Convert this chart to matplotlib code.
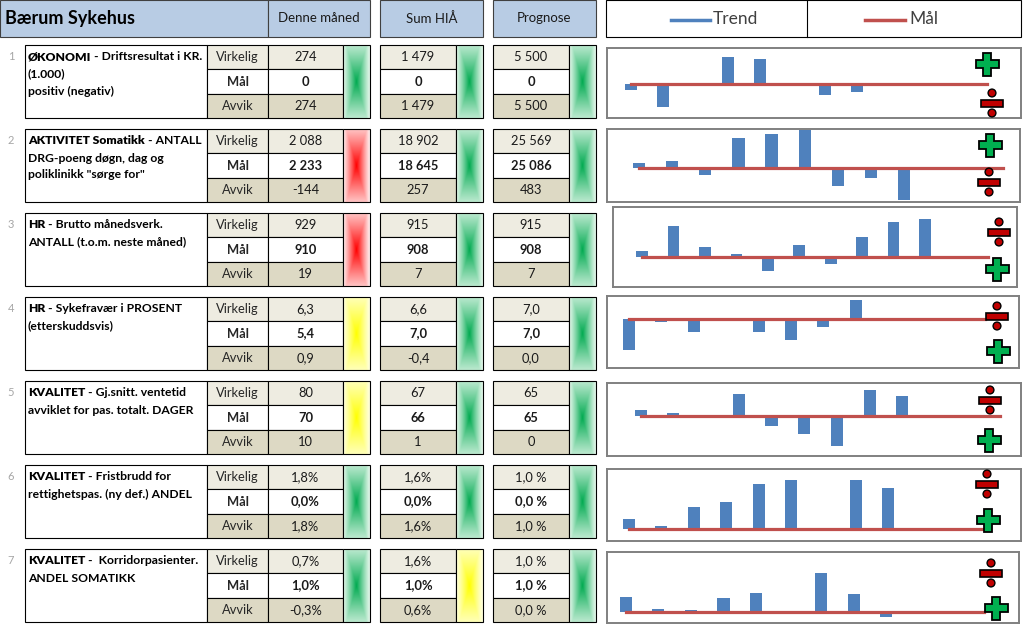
import numpy as np
import matplotlib.pyplot as plt
from matplotlib.patches import Rectangle, Polygon, Circle

plt.rcParams['font.family'] = ['Lato', 'DejaVu Sans']

# ---- data ----
title = 'Bærum Sykehus'
periods = ['Denne måned', 'Sum HIÅ', 'Prognose']
measures = ['Virkelig', 'Mål', 'Avvik']

kpi_numbers = ['1', '2', '3', '4', '5', '6', '7']
kpi_heads = ['ØKONOMI', 'AKTIVITET Somatikk', 'HR', 'HR', 'KVALITET', 'KVALITET', 'KVALITET']
kpi_first_line = [' - Driftsresultat i KR.', ' - ANTALL', ' - Brutto månedsverk.',
                  ' - Sykefravær i PROSENT', ' - Gj.snitt. ventetid', ' - Fristbrudd for',
                  ' -  Korridorpasienter.']
kpi_more_lines = [['(1.000)', 'positiv (negativ)'],
                  ['DRG-poeng døgn, dag og', 'poliklinikk "sørge for"'],
                  ['ANTALL (t.o.m. neste måned)'],
                  ['(etterskuddsvis)'],
                  ['avviklet for pas. totalt. DAGER'],
                  ['rettighetspas. (ny def.) ANDEL'],
                  ['ANDEL SOMATIKK']]

denne_maned = [['274', '0', '274'], ['2 088', '2 233', '-144'], ['929', '910', '19'],
               ['6,3', '5,4', '0,9'], ['80', '70', '10'], ['1,8%', '0,0%', '1,8%'],
               ['0,7%', '1,0%', '-0,3%']]
sum_hia = [['1 479', '0', '1 479'], ['18 902', '18 645', '257'], ['915', '908', '7'],
           ['6,6', '7,0', '-0,4'], ['67', '66', '1'], ['1,6%', '0,0%', '1,6%'],
           ['1,6%', '1,0%', '0,6%']]
prognose = [['5 500', '0', '5 500'], ['25 569', '25 086', '483'], ['915', '908', '7'],
            ['7,0', '7,0', '0,0'], ['65', '65', '0'], ['1,0 %', '0,0 %', '1,0 %'],
            ['1,0 %', '1,0 %', '0,0 %']]

status_denne = ['green', 'red', 'red', 'yellow', 'yellow', 'green', 'green']
status_sum = ['green', 'green', 'green', 'green', 'green', 'green', 'yellow']
status_prognose = ['green', 'green', 'green', 'green', 'green', 'green', 'green']

months = np.arange(12)
# monthly deviation from target (relative units)
trend_avvik = [
    [-6, -23, 0, 28, 26, 0, -11, -8, 0, 0, 0, 0],
    [4, 6, -7, 29, 33, 37, -18, -10, -32, 0, 0, 0],
    [6, 31, 10, 3, -14, 12, -7, 20, 35, 38, 0, 0],
    [-31, -3, -13, 0, -13, -21, -8, 19, 0, 0, 0, 0],
    [6, 3, 0, 22, -10, -18, -30, 26, 20, 0, 0, 0],
    [10, 3, 22, 27, 45, 49, 0, 49, 41, 0, 0, 0],
    [15, 3, 2, 14, 19, 0, 39, 18, -5, 0, 0, 0],
]
maal = [0, 0, 0, 0, 0, 0, 0]
higher_is_better = [True, True, False, False, False, False, False]

# ---- layout (pixels) ----
W, H = 1024, 628
row_top0, row_step, row_h = 45, 84, 73
group_cols = [(268, 343, 370), (380, 456, 483), (493, 569, 596)]
chart_boxes = [(607, 48, 1021, 118), (607, 129, 1020, 202), (613, 207, 1017, 287),
               (607, 296, 1019, 368), (607, 383, 1021, 456), (607, 469, 1021, 541),
               (607, 552, 1019, 623)]
chart_xlim = [(-0.73, 12.05), (-0.97, 11.5), (-0.92, 11.92), (-0.68, 12.04),
              (-1.03, 11.63), (-0.68, 12.1), (-0.58, 12.08)]
chart_ylim = [(-34, 37), (-34, 38), (-30, 50), (-49, 23), (-40, 33), (-12, 60), (-11, 60)]
sym_up = [(987, 64), (990, 145), (999, 232), (997, 316), (990, 400), (987, 484), (991, 573)]
sym_down = [(992, 103), (989, 182), (997, 269), (998, 351), (989, 440), (988, 520), (996, 608)]

light = '#eeece1'
dark = '#ddd9c4'
sub_bg = [light, 'white', dark]
blue = '#4f81bd'
red = '#c0504d'

fig = plt.figure(figsize=(10.24, 6.28), dpi=100)
bg = fig.add_axes([0, 0, 1, 1])
bg.set_xlim(0, W)
bg.set_ylim(H, 0)
bg.axis('off')


def cell(ax, x0, y0, x1, y1, fc='white', ec='black', lw=0.8):
    ax.add_patch(Rectangle((x0, y0), x1 - x0, y1 - y0, facecolor=fc, edgecolor=ec, lw=lw, zorder=2))


def indicator(ax, x0, y0, x1, y1, color):
    center = {'green': (0, 170, 80), 'red': (255, 0, 0), 'yellow': (255, 255, 0)}[color]
    edge = {'green': (226, 246, 233), 'red': (255, 236, 236), 'yellow': (255, 255, 222)}[color]
    u = np.abs(np.linspace(-1, 1, 40))[None, :]
    v = np.abs(np.linspace(-1, 1, 100))[:, None]
    s = (1 - np.maximum(u, 0.78 * v)) ** 1.15
    img = np.array(edge) + (np.array(center) - np.array(edge)) * s[..., None]
    ax.imshow(img / 255, extent=(x0, x1, y1, y0), aspect='auto', interpolation='bilinear', zorder=2)
    ax.add_patch(Rectangle((x0, y0), x1 - x0, y1 - y0, fill=False, edgecolor='black', lw=0.8, zorder=3))


# header
cell(bg, 0, 0, 268, 37, fc='#b8cce4', ec='#404040')
bg.text(5, 18.5, title, fontsize=13, fontweight='bold', va='center', ha='left', zorder=4)
for (gx0, gi, gx1), name in zip(group_cols, periods):
    cell(bg, gx0, 0, gx1, 37, fc='#b8cce4', ec='#404040')
    bg.text((gx0 + gx1) / 2, 18.5, name, fontsize=9.5, ha='center', va='center', color='#1a1a1a', zorder=4)

# legend header
cell(bg, 606, 0, 1021, 37, fc='white', ec='black')
bg.plot([807, 807], [0, 37], color='black', lw=0.8, zorder=3)
bg.plot([671, 710], [20, 20], color=blue, lw=2.5, zorder=3)
bg.text(713, 19, 'Trend', fontsize=12.5, color='#404040', va='center', zorder=4)
bg.plot([865, 905], [20, 20], color=red, lw=2.5, zorder=3)
bg.text(909, 19, 'Mål', fontsize=12.5, color='#404040', va='center', zorder=4)

renderer = fig.canvas.get_renderer()
subh = row_h / 3

for i in range(7):
    top = row_top0 + i * row_step
    bot = top + row_h
    bg.text(11, top + 12, kpi_numbers[i], fontsize=8, color='#a6a6a6', ha='center', va='center', zorder=4)
    cell(bg, 25, top, 207, bot)
    t = bg.text(28, top + 12, kpi_heads[i], fontsize=8.7, fontweight='heavy', va='center', zorder=4)
    wdt = t.get_window_extent(renderer).width
    bg.text(28 + wdt, top + 12, kpi_first_line[i], fontsize=8.7, fontweight='bold', va='center', zorder=4)
    for k, line in enumerate(kpi_more_lines[i]):
        bg.text(28, top + 12 + 17 * (k + 1), line, fontsize=8.7, fontweight='bold', va='center', zorder=4)

    for j in range(3):
        y0 = top + j * subh
        cell(bg, 207, y0, 268, y0 + subh, fc=sub_bg[j])
        bg.text(237.5, y0 + subh / 2, measures[j], fontsize=9.3, ha='center', va='center',
                fontweight='bold' if j == 1 else 'normal', color='#262626', zorder=4)

    for (gx0, gi, gx1), vals, st in zip(group_cols, [denne_maned, sum_hia, prognose],
                                        [status_denne, status_sum, status_prognose]):
        for j in range(3):
            y0 = top + j * subh
            cell(bg, gx0, y0, gi, y0 + subh, fc=sub_bg[j])
            bg.text((gx0 + gi) / 2, y0 + subh / 2, vals[i][j], fontsize=9.3, ha='center', va='center',
                    fontweight='bold' if j == 1 else 'normal', color='#1a1a1a', zorder=4)
        indicator(bg, gi, top, gx1, bot, st[i])

    # trend chart
    x0, y0, x1, y1 = chart_boxes[i]
    ax = fig.add_axes([x0 / W, 1 - y1 / H, (x1 - x0) / W, (y1 - y0) / H])
    ax.bar(months, trend_avvik[i], width=0.37, color=blue, zorder=2)
    ax.plot([months[0], months[-1]], [maal[i], maal[i]], color=red, lw=2.3, zorder=3)
    ax.set_xlim(chart_xlim[i])
    ax.set_ylim(chart_ylim[i])
    ax.set_xticks([])
    ax.set_yticks([])
    for sp in ax.spines.values():
        sp.set_color('#808080')
        sp.set_linewidth(1.4)

# plus / divide symbols on top
top_ax = fig.add_axes([0, 0, 1, 1])
top_ax.set_xlim(0, W)
top_ax.set_ylim(H, 0)
top_ax.axis('off')
top_ax.patch.set_alpha(0)


def plus(ax, cx, cy, s=23, a=7.5):
    h, q = s / 2, a / 2
    pts = [(-q, -h), (q, -h), (q, -q), (h, -q), (h, q), (q, q), (q, h), (-q, h),
           (-q, q), (-h, q), (-h, -q), (-q, -q)]
    ax.add_patch(Polygon([(cx + px, cy + py) for px, py in pts], closed=True,
                         facecolor='#00b050', edgecolor='black', lw=1.3, zorder=5))


def divide(ax, cx, cy):
    ax.add_patch(Rectangle((cx - 11, cy - 3.5), 22, 7, facecolor='#c00000', edgecolor='black', lw=1.2, zorder=5))
    for dy in (-10, 10):
        ax.add_patch(Circle((cx, cy + dy), 3.9, facecolor='#c00000', edgecolor='black', lw=1.0, zorder=5))


for i in range(7):
    if higher_is_better[i]:
        plus(top_ax, *sym_up[i])
        divide(top_ax, *sym_down[i])
    else:
        divide(top_ax, *sym_up[i])
        plus(top_ax, *sym_down[i])

fig.savefig('out.png', dpi=100)
